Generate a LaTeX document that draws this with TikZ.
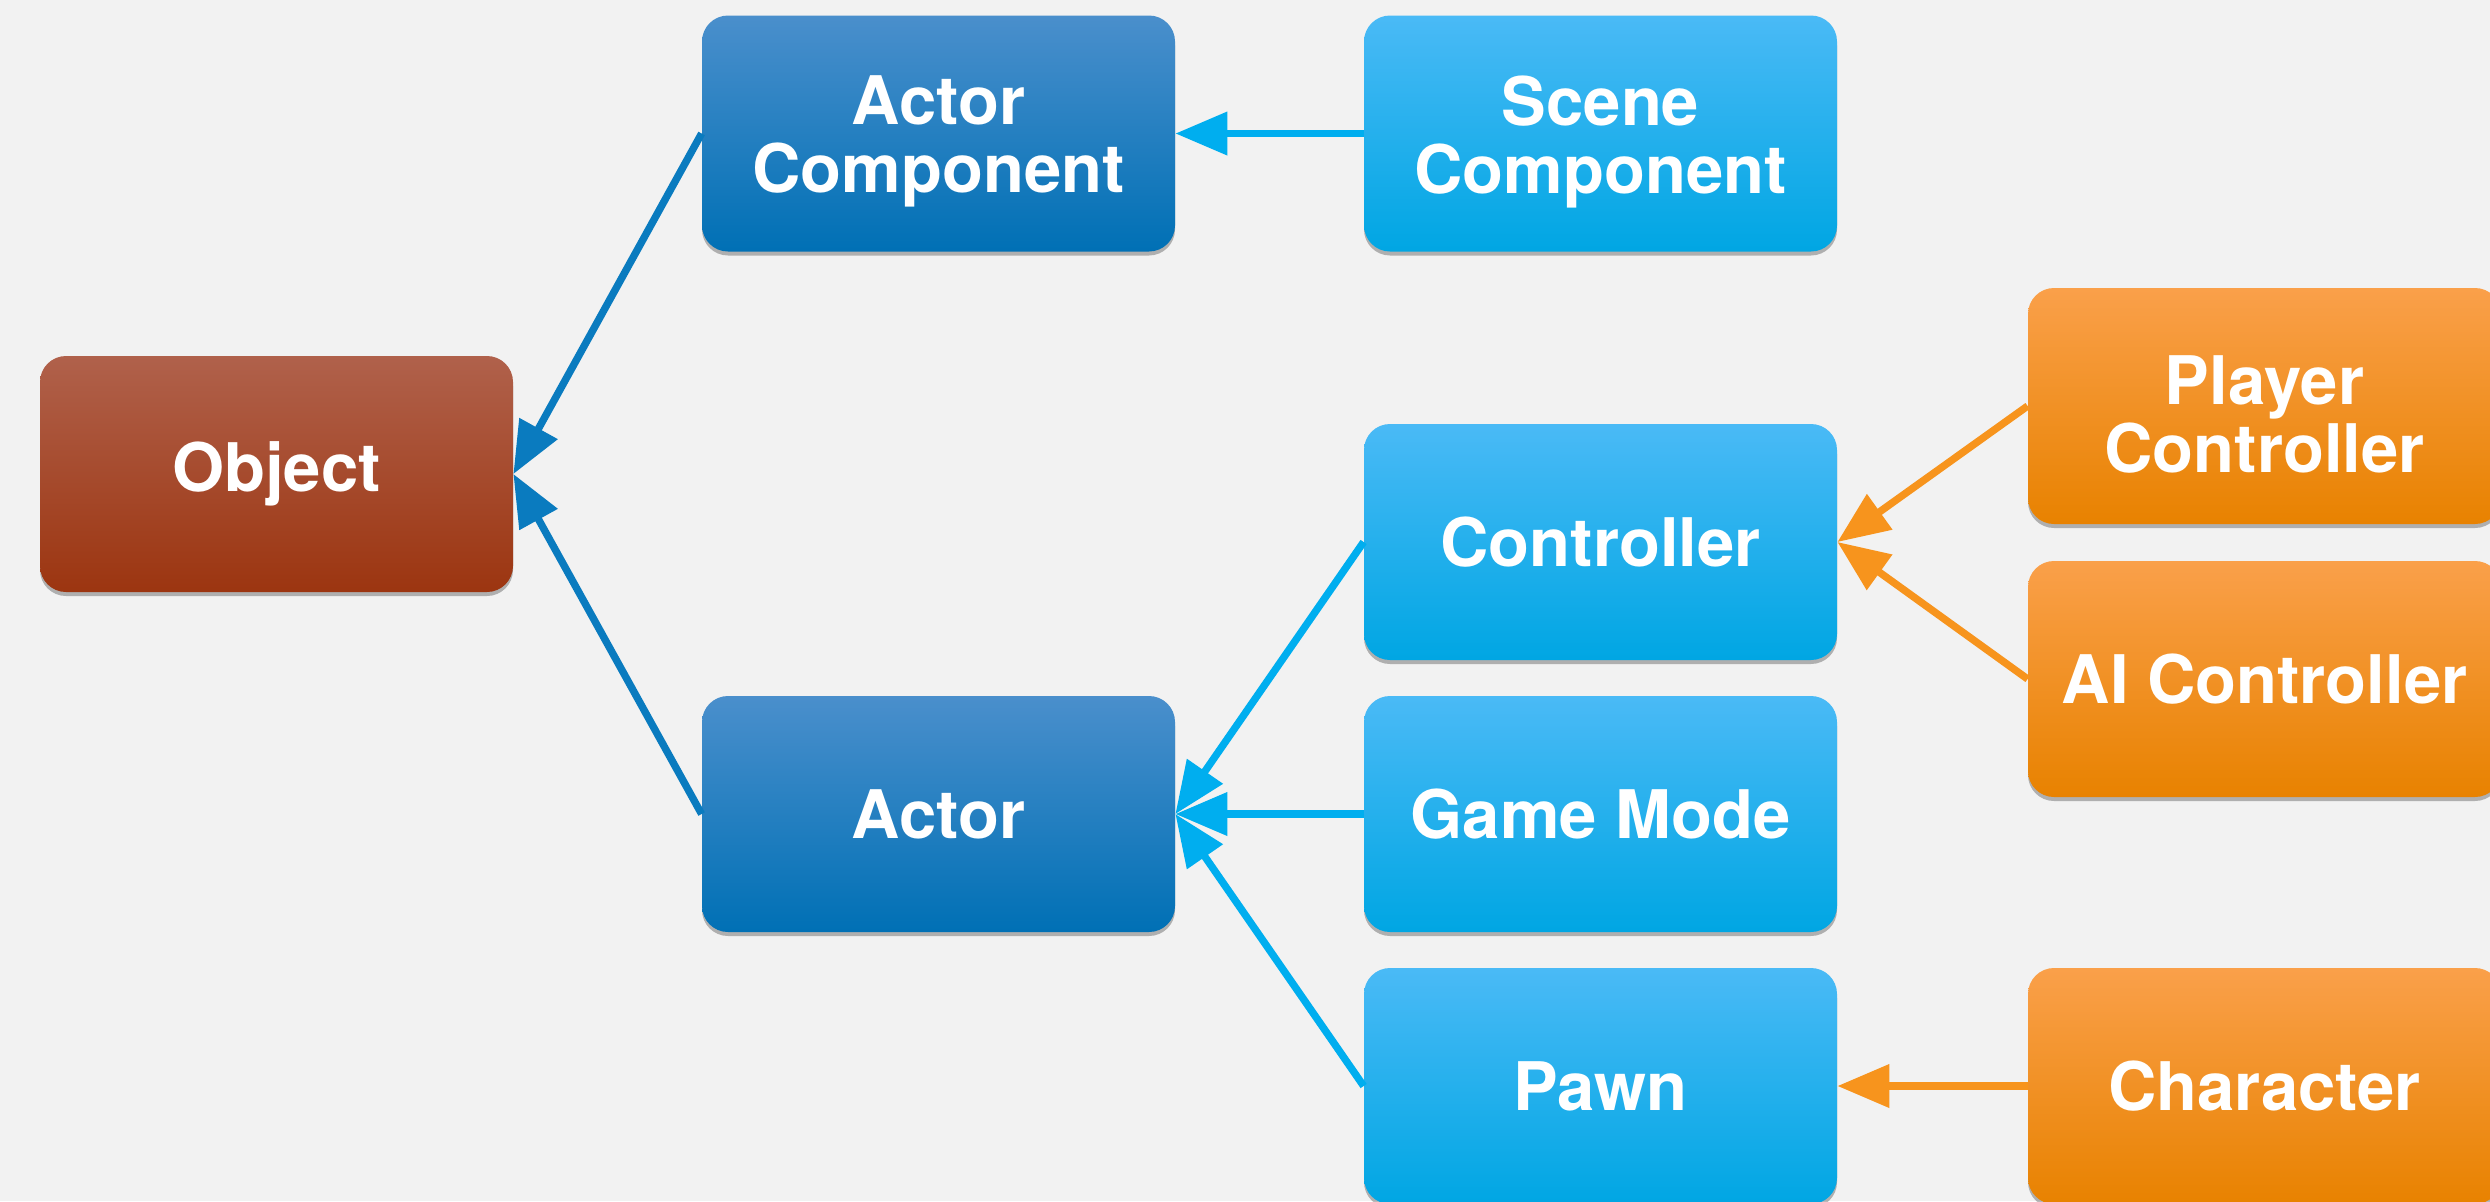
\documentclass[tikz,border=0pt]{standalone}
\usepackage{fontspec}
\setmainfont{TeX Gyre Heros}
\usetikzlibrary{arrows.meta,shadows}
\definecolor{bg}{HTML}{F2F2F2}
\definecolor{objtop}{HTML}{B0614B}
\definecolor{objmid}{HTML}{A53E1B}
\definecolor{objbot}{HTML}{9C3510}
\definecolor{dbtop}{HTML}{4A8FCC}
\definecolor{dbmid}{HTML}{0A7CC2}
\definecolor{dbbot}{HTML}{0070B5}
\definecolor{lbtop}{HTML}{4ABAF6}
\definecolor{lbmid}{HTML}{0BB5F9}
\definecolor{lbbot}{HTML}{00A6E3}
\definecolor{ortop}{HTML}{FAA04A}
\definecolor{ormid}{HTML}{F9961C}
\definecolor{orbot}{HTML}{E88200}
\definecolor{dbline}{HTML}{0A7BBF}
\definecolor{lbline}{HTML}{00AEEF}
\definecolor{orline}{HTML}{F7941D}
\newcommand{\twolines}[2]{\raisebox{-4pt}[\height][\depth]{\parbox{220pt}{\centering #1\\#2}}}
\tikzset{
  box/.style={rounded corners=13pt, minimum width=236.5pt, minimum height=118pt,
    text=white, font=\bfseries\fontsize{33.5}{34}\selectfont, align=center, inner sep=0pt,
    drop shadow={shadow xshift=0pt, shadow yshift=-2pt, opacity=0.35, fill=black!80}},
  objbox/.style={box, top color=objtop, middle color=objmid, bottom color=objbot},
  dbbox/.style={box, top color=dbtop, middle color=dbmid, bottom color=dbbot},
  lbbox/.style={box, top color=lbtop, middle color=lbmid, bottom color=lbbot},
  orbox/.style={box, top color=ortop, middle color=ormid, bottom color=orbot},
  conn/.style={line width=3.7pt, -{Triangle[length=26pt, width=21pt]}},
  dbconn/.style={conn, draw=dbline, fill=dbline},
  lbconn/.style={conn, draw=lbline, fill=lbline},
  orconn/.style={conn, draw=orline, fill=orline},
}
\begin{document}
\begin{tikzpicture}[x=0.5pt, y=-0.5pt]
\fill[bg] (0,0) rectangle (2490,1201);
\useasboundingbox (0,0) rectangle (2490,1201);
\node[objbox] (obj) at (276.5,474) {Object};
\node[dbbox] (ac) at (938.5,133.5) {\twolines{Actor}{Component}};
\node[lbbox] (sc) at (1600.5,133.5) {\twolines{Scene}{Component}};
\node[dbbox] (actor) at (938.5,814) {Actor};
\node[lbbox] (ctrl) at (1600.5,542) {Controller};
\node[lbbox] (gm) at (1600.5,814) {Game Mode};
\node[lbbox] (pawn) at (1600.5,1086) {Pawn};
\node[orbox] (pc) at (2264.5,406) {\twolines{Player}{Controller}};
\node[orbox] (ai) at (2264.5,679) {AI Controller};
\node[orbox] (ch) at (2264.5,1086) {Character};
\draw[dbconn] (ac.west) -- (obj.east);
\draw[dbconn] (actor.west) -- (obj.east);
\draw[lbconn] (sc.west) -- (ac.east);
\draw[lbconn] (ctrl.west) -- (actor.east);
\draw[lbconn] (gm.west) -- (actor.east);
\draw[lbconn] (pawn.west) -- (actor.east);
\draw[orconn] (pc.west) -- (ctrl.east);
\draw[orconn] (ai.west) -- (ctrl.east);
\draw[orconn] (ch.west) -- (pawn.east);
\end{tikzpicture}
\end{document}
